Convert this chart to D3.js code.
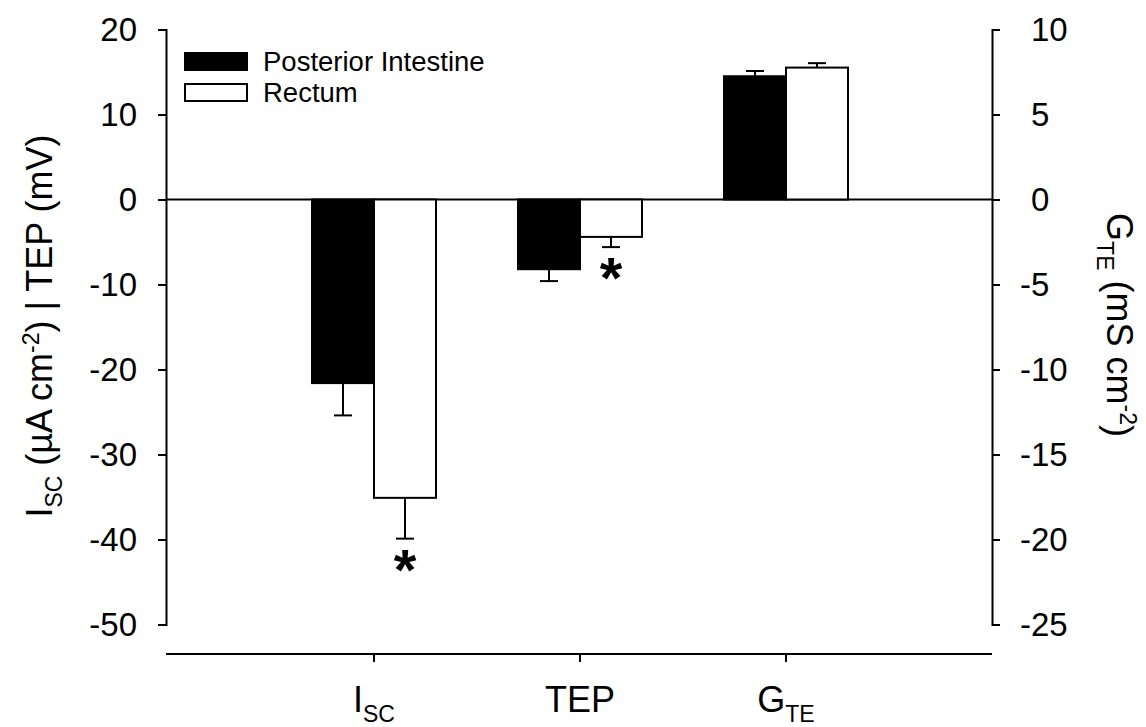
<!DOCTYPE html>
<html>
<head>
<meta charset="utf-8">
<script src="https://cdn.jsdelivr.net/npm/d3@7"></script>
<style>
  html, body { margin: 0; padding: 0; background: #fff; }
  svg { display: block; font-family: "Liberation Sans", Arial, sans-serif; }
</style>
</head>
<body>
<svg id="chart" width="1146" height="727"></svg>
<script>
// Measured variables (Isc and TEP on the left axis, GTE on the right axis)
const categories = ["ISC", "TEP", "GTE"];
const posteriorMean = [-21.6, -8.2, 7.25];
const posteriorSem  = [3.8, 1.4, 0.31];
const rectumMean    = [-35.1, -4.4, 7.76];
const rectumSem     = [4.8, 1.2, 0.26];
const significant   = [true, true, false]; // rectum differs from posterior intestine
const leftTicks  = [20, 10, 0, -10, -20, -30, -40, -50];
const rightTicks = [10, 5, 0, -5, -10, -15, -20, -25];
const seriesNames = ["Posterior Intestine", "Rectum"];

const svg = d3.select("#chart");
const FONT_TICK = 33, FONT_TITLE = 36, FONT_SUB = 23;

const axL = 166, axR = 992, plotTop = 29.5, plotBottom = 624.5;
const yLeft  = d3.scaleLinear().domain([-50, 20]).range([plotBottom, plotTop]);
const yRight = d3.scaleLinear().domain([-25, 10]).range([plotBottom, plotTop]);
const x = d3.scaleLinear().domain([0, 4]).range([168, 992]);
const barW = 62;

// the GTE bars are read against the right axis
const yFor = i => (categories[i] === "GTE" ? yRight : yLeft);

// ---- left axis ----
const gL = svg.append("g").attr("transform", `translate(${axL},0)`)
  .call(d3.axisLeft(yLeft).tickValues(leftTicks).tickSize(8).tickSizeOuter(8).tickPadding(21)
        .tickFormat(d => d < 0 ? "-" + Math.abs(d) : d));
gL.selectAll("path, line").attr("stroke", "#000").attr("stroke-width", 2);
gL.selectAll("text").attr("font-size", FONT_TICK).attr("fill", "#000")
  .attr("font-family", "Liberation Sans, Arial, sans-serif");

// ---- right axis (digits left-aligned, minus sign hanging in front) ----
const gR = svg.append("g").attr("transform", `translate(${axR},0)`)
  .call(d3.axisRight(yRight).tickValues(rightTicks).tickSize(8).tickSizeOuter(8).tickPadding(31)
        .tickFormat(d => Math.abs(d)));
gR.selectAll("path, line").attr("stroke", "#000").attr("stroke-width", 2);
gR.selectAll("text").attr("font-size", FONT_TICK).attr("fill", "#000")
  .attr("font-family", "Liberation Sans, Arial, sans-serif");
gR.selectAll(".tick").filter(d => d < 0).append("text")
  .attr("x", 39).attr("dy", "0.32em").attr("text-anchor", "end")
  .attr("font-size", FONT_TICK).attr("fill", "#000")
  .attr("font-family", "Liberation Sans, Arial, sans-serif")
  .text("-");

// ---- zero line ----
svg.append("line")
  .attr("x1", axL).attr("x2", axR)
  .attr("y1", yLeft(0)).attr("y2", yLeft(0))
  .attr("stroke", "#000").attr("stroke-width", 2);

// ---- bottom category axis ----
const yBase = 654;
svg.append("line").attr("x1", axL).attr("x2", axR).attr("y1", yBase).attr("y2", yBase)
  .attr("stroke", "#000").attr("stroke-width", 2);
categories.forEach((c, i) => {
  svg.append("line").attr("x1", x(i + 1)).attr("x2", x(i + 1))
    .attr("y1", yBase).attr("y2", yBase + 8).attr("stroke", "#000").attr("stroke-width", 2);
});

function labelWithSub(sel, main, sub) {
  sel.append("tspan").text(main);
  sel.append("tspan").attr("font-size", FONT_SUB).attr("dy", 10).text(sub);
}
const catLabel = svg.append("g").attr("font-size", FONT_TITLE).attr("fill", "#000");
const catParts = [["I", "SC"], ["TEP", ""], ["G", "TE"]];
categories.forEach((c, i) => {
  const t = catLabel.append("text").attr("x", x(i + 1)).attr("y", 712).attr("text-anchor", "middle");
  if (catParts[i][1]) labelWithSub(t, catParts[i][0], catParts[i][1]);
  else t.text(catParts[i][0]);
});

// ---- bars ----
const series = [
  { mean: posteriorMean, sem: posteriorSem, fill: "#000", off: -1 },
  { mean: rectumMean,    sem: rectumSem,    fill: "#fff", off: 0 }
];
series.forEach(s => {
  s.mean.forEach((v, i) => {
    const ys = yFor(i);
    const x0 = x(i + 1) + s.off * barW;
    const y0 = ys(0), y1 = ys(v);
    const dir = v < 0 ? -1 : 1;
    const yErr = ys(v + dir * s.sem[i]);
    const cx = x0 + barW / 2;
    // error bar (drawn first so the bar covers its stem)
    svg.append("line").attr("x1", cx).attr("x2", cx).attr("y1", y1).attr("y2", yErr)
      .attr("stroke", "#000").attr("stroke-width", 2);
    svg.append("line").attr("x1", cx - 9).attr("x2", cx + 9).attr("y1", yErr).attr("y2", yErr)
      .attr("stroke", "#000").attr("stroke-width", 2);
    svg.append("rect")
      .attr("x", x0).attr("width", barW)
      .attr("y", Math.min(y0, y1)).attr("height", Math.abs(y1 - y0))
      .attr("fill", s.fill).attr("stroke", "#000").attr("stroke-width", 2);
  });
});

// ---- significance marks under the rectum error bars ----
const STAR = 58;
rectumMean.forEach((v, i) => {
  if (!significant[i]) return;
  const ys = yFor(i);
  const yErr = ys(v - rectumSem[i]);
  const cx = x(i + 1) + barW / 2;
  svg.append("text").attr("x", cx).attr("y", yErr + 23 + 0.486 * STAR)
    .attr("text-anchor", "middle").attr("font-size", STAR).attr("font-weight", "bold")
    .attr("fill", "#000").text("*");
});

// ---- legend ----
const legend = svg.append("g");
seriesNames.forEach((name, k) => {
  const yTop = k === 0 ? 53 : 84;
  legend.append("rect").attr("x", 185).attr("y", yTop).attr("width", 62).attr("height", 17)
    .attr("fill", k === 0 ? "#000" : "#fff").attr("stroke", "#000").attr("stroke-width", 2);
  legend.append("text").attr("x", 263).attr("y", yTop + 18).attr("font-size", 27.5)
    .attr("fill", "#000").text(name);
});

// ---- axis titles ----
const tl = svg.append("text").attr("font-size", FONT_TITLE).attr("fill", "#000")
  .attr("text-anchor", "middle").attr("transform", "translate(52,326) rotate(-90)");
tl.append("tspan").text("I");
tl.append("tspan").attr("font-size", FONT_SUB).attr("dy", 10).text("SC");
tl.append("tspan").attr("dy", -10).text(" (µA cm");
tl.append("tspan").attr("font-size", FONT_SUB).attr("dy", -13).text("-2");
tl.append("tspan").attr("dy", 13).text(") | TEP (mV)");

const tr = svg.append("text").attr("font-size", FONT_TITLE).attr("fill", "#000")
  .attr("text-anchor", "middle").attr("transform", "translate(1107,325) rotate(90)");
tr.append("tspan").text("G");
tr.append("tspan").attr("font-size", FONT_SUB).attr("dy", 10).text("TE");
tr.append("tspan").attr("dy", -10).text(" (mS cm");
tr.append("tspan").attr("font-size", FONT_SUB).attr("dy", -13).text("-2");
tr.append("tspan").attr("dy", 13).text(")");
</script>
</body>
</html>
